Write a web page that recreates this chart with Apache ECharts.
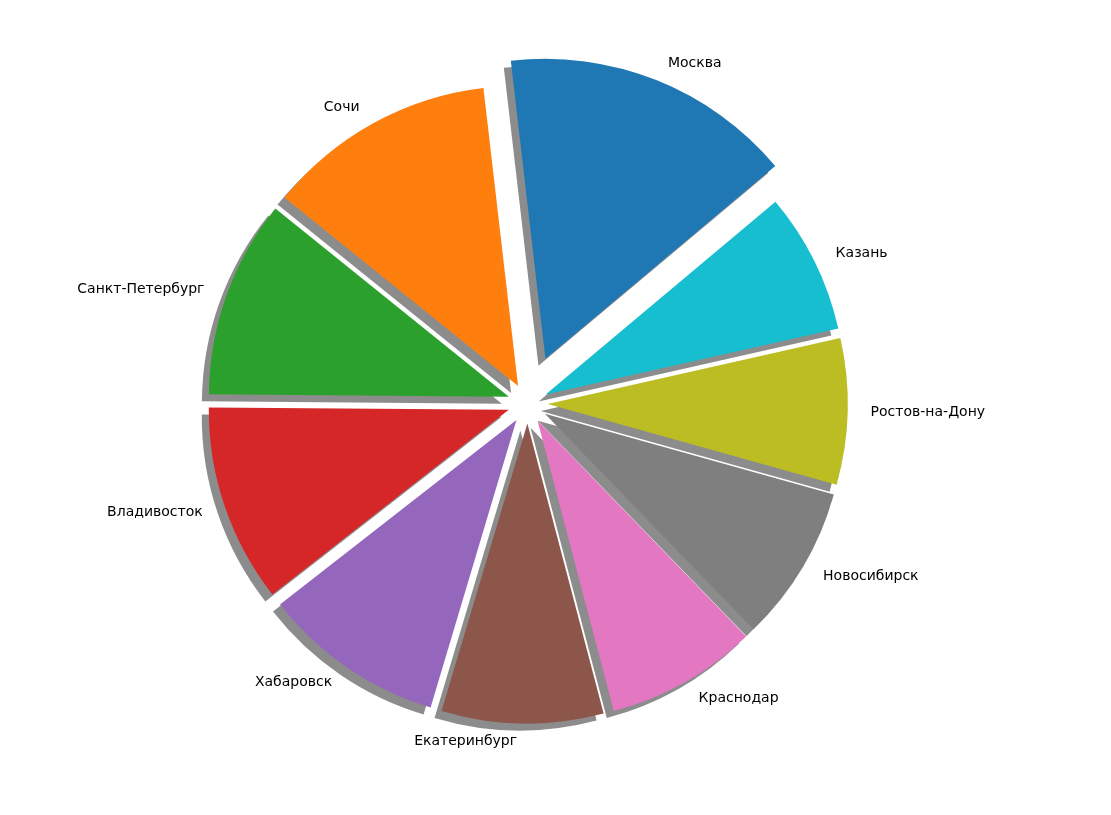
<!DOCTYPE html>
<html><head><meta charset="utf-8">
<script src="https://cdn.jsdelivr.net/npm/echarts@6/dist/echarts.min.js"></script>
<style>html,body{margin:0;background:#fff}#c{width:1111px;height:815px}</style>
</head><body><div id="c"></div>
<script>
// данные, против часовой стрелки начиная с Москвы
const cities = ['Москва', 'Сочи', 'Санкт-Петербург', 'Владивосток', 'Хабаровск',
  'Екатеринбург', 'Краснодар', 'Новосибирск', 'Ростов-на-Дону', 'Казань'];
const values = [56, 44, 38, 38, 35, 31, 29, 30, 28, 27];
const colors = ['#1f77b4', '#ff7f0e', '#2ca02c', '#d62728', '#9467bd',
  '#8c564b', '#e377c2', '#7f7f7f', '#bcbd22', '#17becf'];

const shadow = { shadowColor: 'rgba(0,0,0,0.45)', shadowBlur: 0, shadowOffsetX: -7, shadowOffsetY: 7 };
const base = {
  type: 'pie', center: ['47.5%', '49.5%'], radius: 300, startAngle: 40, clockwise: false,
  selectedMode: 'multiple', animation: false, silent: true,
  label: { show: true, position: 'outside', color: '#000', fontSize: 14, fontFamily: 'DejaVu Sans' },
  labelLine: { show: false, length: 18, length2: 0 },
};
// обычные сектора
const s1 = Object.assign({}, base, {
  selectedOffset: 20,
  data: cities.map((n, i) => i === 0
    ? { name: n, value: values[i], itemStyle: { color: 'transparent' }, label: { show: false } }
    : { name: n, value: values[i], selected: true, itemStyle: Object.assign({ color: colors[i] }, shadow) }),
});
// Москва выдвинута сильнее
const s2 = Object.assign({}, base, {
  selectedOffset: 48,
  data: cities.map((n, i) => i === 0
    ? { name: n, value: values[i], selected: true, itemStyle: Object.assign({ color: colors[i] }, shadow) }
    : { name: n, value: values[i], itemStyle: { color: 'transparent' }, label: { show: false } }),
});
const chart = echarts.init(document.getElementById('c'));
chart.setOption({ backgroundColor: '#fff', series: [s1, s2] });
</script></body></html>
